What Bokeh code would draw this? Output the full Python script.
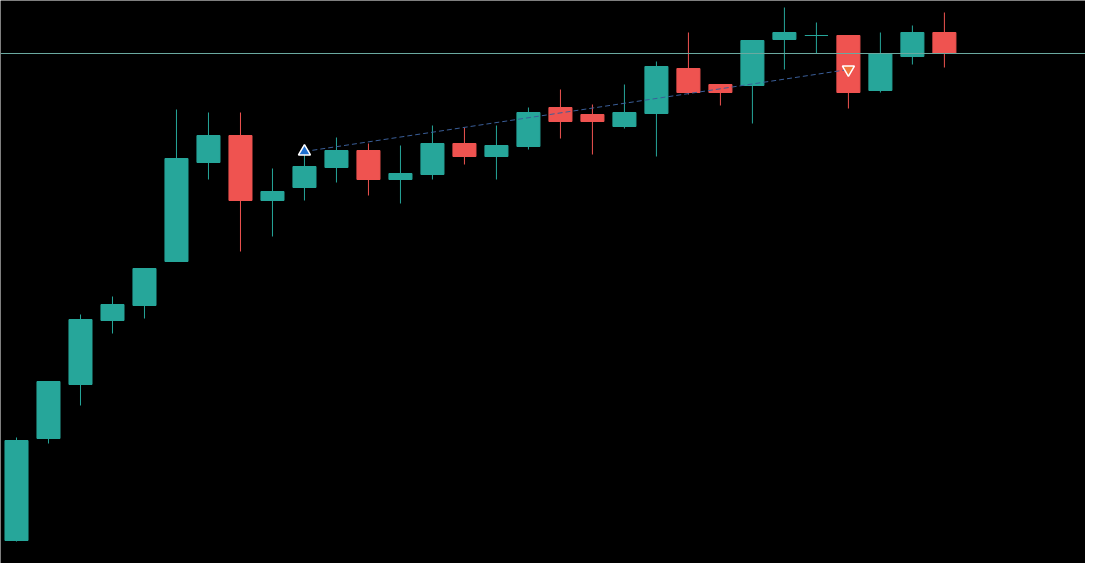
from bokeh.plotting import figure
from bokeh.models import ColumnDataSource, Range1d, Span
from bokeh.embed import file_html
from bokeh.resources import INLINE

# candle data
opens = [96.0, 106.2, 111.6, 118.0, 119.5, 123.9, 133.8, 136.5, 130.0, 131.3,
         133.3, 135.0, 132.1, 132.6, 135.7, 134.4, 135.4, 139.3, 138.6, 137.4,
         138.7, 143.2, 141.6, 141.5, 146.1, 146.5, 146.5, 141.0, 144.4, 146.8]
highs = [106.3, 111.9, 118.6, 120.4, 123.2, 139.1, 138.8, 138.8, 133.2, 134.8,
         136.3, 135.7, 135.5, 137.5, 137.3, 137.5, 139.3, 141.1, 139.6, 141.6,
         143.9, 146.8, 141.6, 146.0, 149.3, 147.8, 146.5, 146.8, 147.5, 148.8]
lows = [95.9, 105.7, 109.5, 116.7, 118.2, 123.9, 132.1, 124.9, 126.4, 130.0,
        131.8, 130.5, 129.7, 132.1, 133.6, 132.1, 135.1, 136.2, 134.6, 137.2,
        134.4, 140.6, 139.5, 137.7, 143.1, 144.7, 139.2, 140.8, 143.6, 143.3]
closes = [106.0, 111.9, 118.1, 119.6, 123.2, 134.2, 136.5, 130.0, 130.9, 133.4,
          135.0, 132.1, 132.7, 135.7, 134.4, 135.5, 138.8, 137.9, 137.9, 138.8,
          143.4, 140.8, 140.8, 146.0, 146.8, 146.5, 140.8, 144.7, 146.8, 144.7]

# signal markers and the dashed line joining them
buy_idx = [9]
buy_price = [134.9]
sell_idx = [26]
sell_price = [143.1]

UP = "#26a69a"
DOWN = "#ef5350"

idx = list(range(len(opens)))
colors = [UP if c >= o else DOWN for o, c in zip(opens, closes)]
src = ColumnDataSource(data=dict(
    x=idx, open=opens, high=highs, low=lows, close=closes,
    top=[max(o, c) for o, c in zip(opens, closes)],
    bottom=[min(o, c) for o, c in zip(opens, closes)],
    color=colors,
))

p = figure(width=1085, height=563, output_backend="svg", toolbar_location=None,
           x_range=Range1d(-0.5, 33.41), y_range=Range1d(93.7, 150.0),
           background_fill_color="black", border_fill_color="black",
           min_border=0)
p.outline_line_color = None
p.axis.visible = False
p.grid.visible = False

p.segment(x0="x", y0="low", x1="x", y1="high", color="color", line_width=1, source=src)
p.vbar(x="x", width=0.72, top="top", bottom="bottom", fill_color="color",
       line_color="color", line_width=1, source=src)

# last price line
p.add_layout(Span(location=closes[-1], dimension="width",
                  line_color="#6aa9a0", line_width=1))

p.line(buy_idx + sell_idx, buy_price + sell_price, line_color="#3a5e98",
       line_dash="5 3", line_width=1)
p.scatter(buy_idx, buy_price, marker="triangle", size=12,
          fill_color="#1e6fd0", line_color="white", line_width=1.5)
p.scatter(sell_idx, sell_price, marker="inverted_triangle", size=12,
          fill_color="#f0783c", line_color="white", line_width=1.5)

open("out.html", "w").write(file_html(p, INLINE))
